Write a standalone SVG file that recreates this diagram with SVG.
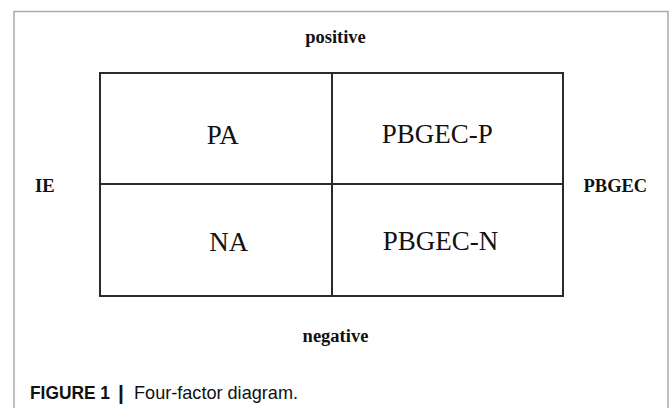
<svg xmlns="http://www.w3.org/2000/svg" width="670" height="408" viewBox="0 0 670 408">
<style>
.frame{fill:none;stroke:#ababab;stroke-width:1.5}
.grid{fill:none;stroke:#2b2b2b;stroke-width:2}
.axis{font-family:"Liberation Serif","Times New Roman",serif;font-weight:bold;font-size:18.5px;fill:#111}
.cell{font-family:"Liberation Serif","Times New Roman",serif;font-size:27px;fill:#111}
.cap{font-family:"Liberation Sans",Arial,sans-serif;font-size:19px;fill:#111}
</style>
<rect width="670" height="408" fill="#fff"/>
<path class="frame" d="M14,420 V11.5 H668 V420"/>
<g id="connectors">
<rect class="grid" x="100" y="73" width="463" height="223"/>
<line class="grid" x1="332" y1="73" x2="332" y2="296"/>
<line class="grid" x1="100" y1="184" x2="563" y2="184"/>
</g>
<g id="positive"><text class="axis" x="335.5" y="43" text-anchor="middle">positive</text></g>
<g id="negative"><text class="axis" x="335.5" y="342" text-anchor="middle">negative</text></g>
<g id="IE"><text class="axis" x="35" y="192">IE</text></g>
<g id="PBGEC"><text class="axis" x="583.5" y="192">PBGEC</text></g>
<g id="PA"><text class="cell" x="206.7" y="144">PA</text></g>
<g id="PBGEC-P"><text class="cell" x="381.7" y="143">PBGEC-P</text></g>
<g id="NA"><text class="cell" x="209.3" y="250.5">NA</text></g>
<g id="PBGEC-N"><text class="cell" x="382.7" y="249.5">PBGEC-N</text></g>
<g id="caption">
<text class="cap" x="30" y="399" textLength="80" lengthAdjust="spacingAndGlyphs" font-weight="bold">FIGURE 1</text>
<text class="cap" x="118" y="400" style="font-size:21px;font-weight:bold" fill="#222">|</text>
<text class="cap" x="134" y="399" textLength="164" lengthAdjust="spacingAndGlyphs">Four-factor diagram.</text>
</g>
</svg>
